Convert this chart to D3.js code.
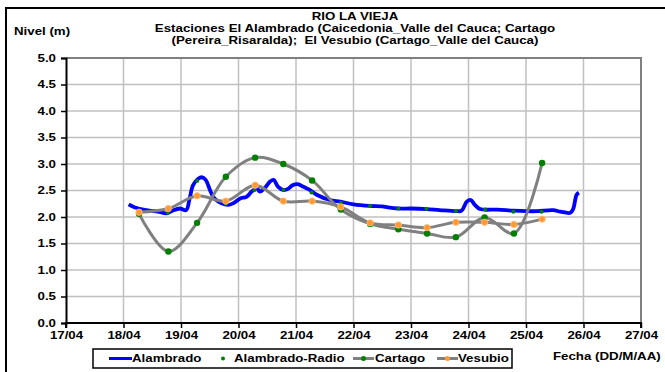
<!DOCTYPE html>
<html>
<head>
<meta charset="utf-8">
<script src="https://cdn.jsdelivr.net/npm/d3@7"></script>
<style>
  body { margin: 0; background: #fff; }
  text { font-family: "Liberation Sans", Arial, sans-serif; font-weight: bold; white-space: pre; }
</style>
</head>
<body>
<div id="chart"></div>
<script>
// Datos (dia de abril, nivel en m)
var alamDia = [18.09, 18.2, 18.4, 18.6, 18.75, 18.85, 18.98, 19.09, 19.15, 19.21, 19.3, 19.36, 19.43, 19.5, 19.56,
  19.65, 19.82, 19.91, 20.03, 20.14, 20.23, 20.32, 20.37, 20.46, 20.55, 20.61, 20.69, 20.78, 20.86, 20.94,
  21.03, 21.13, 21.24, 21.36, 21.59, 21.77, 22.0, 22.29, 22.5, 22.6, 22.78, 23.0, 23.27, 23.5, 23.79, 23.88,
  23.97, 24.04, 24.11, 24.2, 24.5, 24.78, 25.0, 25.2, 25.47, 25.6, 25.77, 25.82, 25.88, 25.92];
var alamNivel = [2.24, 2.18, 2.13, 2.10, 2.07, 2.12, 2.16, 2.13, 2.35, 2.60, 2.72, 2.75, 2.70, 2.52, 2.38,
  2.29, 2.23, 2.26, 2.35, 2.38, 2.48, 2.54, 2.48, 2.55, 2.67, 2.70, 2.57, 2.51, 2.53, 2.60,
  2.62, 2.57, 2.51, 2.42, 2.32, 2.29, 2.24, 2.21, 2.20, 2.18, 2.16, 2.16, 2.15, 2.13, 2.11, 2.12,
  2.29, 2.32, 2.23, 2.15, 2.14, 2.12, 2.11, 2.11, 2.13, 2.10, 2.08, 2.15, 2.42, 2.46];

var radioDia = [18.77, 19.28, 19.78, 20.28, 20.78, 21.27, 21.78, 22.29, 22.78, 23.27, 23.78, 24.29, 24.78, 25.27];
var radioNivel = [2.08, 2.68, 2.25, 2.51, 2.51, 2.46, 2.27, 2.21, 2.16, 2.15, 2.11, 2.14, 2.10, 2.10];

var estDia = [18.27, 18.78, 19.28, 19.78, 20.29, 20.78, 21.28, 21.78, 22.29, 22.78, 23.28, 23.78, 24.28, 24.79, 25.28];
var cartagoNivel = [2.06, 1.35, 1.89, 2.76, 3.12, 3.00, 2.69, 2.14, 1.87, 1.77, 1.69, 1.62, 1.99, 1.69, 3.02];
var vesubioNivel = [2.09, 2.16, 2.40, 2.30, 2.60, 2.30, 2.30, 2.19, 1.89, 1.85, 1.80, 1.90, 1.90, 1.86, 1.96];

var yTicks = [0, 0.5, 1, 1.5, 2, 2.5, 3, 3.5, 4, 4.5, 5];
var xTicks = [17, 18, 19, 20, 21, 22, 23, 24, 25, 26, 27];
var titulo = ["RIO LA VIEJA",
  "Estaciones El Alambrado (Caicedonia_Valle del Cauca; Cartago",
  "(Pereira_Risaralda);  El Vesubio (Cartago_Valle del Cauca)"];

var W = 665, H = 372;
var SX = 1.33; // el texto del grafico original sale estirado a lo ancho
var margin = { top: 58, right: 24, bottom: 49, left: 66 };
var width = W - margin.left - margin.right,
    height = H - margin.top - margin.bottom;

// estira el texto horizontalmente sin mover su punto de anclaje
function estirar(sel) {
  sel.each(function() {
    var t = d3.select(this);
    var x0 = +t.attr("x") || 0;
    t.attr("x", x0 / SX).attr("transform", "scale(" + SX + ",1)")
      .style("font-size", "10px")
      .style("font-family", "'Liberation Sans', Arial, sans-serif")
      .style("font-weight", "bold")
      .attr("fill", "#000");
  });
}

var svg = d3.select("#chart").append("svg")
    .attr("width", W)
    .attr("height", H);

// marco exterior
svg.append("rect")
    .attr("x", 6).attr("y", 8)
    .attr("width", 670).attr("height", 380)
    .attr("fill", "none")
    .attr("stroke", "#000")
    .attr("stroke-width", 2);

var g = svg.append("g")
    .attr("transform", "translate(" + margin.left + "," + margin.top + ")");

var x = d3.scaleLinear().domain([17, 27]).range([0, width]);
var y = d3.scaleLinear().domain([0, 5]).range([height, 0]);

// grid
g.selectAll("line.hgrid").data(yTicks.slice(1)).enter().append("line")
    .attr("class", "hgrid")
    .attr("x1", 0).attr("x2", width)
    .attr("y1", function(d) { return y(d); }).attr("y2", function(d) { return y(d); })
    .attr("stroke", "#c0c0c0").attr("stroke-width", 1.5);
g.selectAll("line.vgrid").data(xTicks.slice(1)).enter().append("line")
    .attr("class", "vgrid")
    .attr("x1", function(d) { return x(d); }).attr("x2", function(d) { return x(d); })
    .attr("y1", 0).attr("y2", height)
    .attr("stroke", "#c0c0c0").attr("stroke-width", 1.5);

// borde del area de trazado (arriba y derecha)
g.append("path")
    .attr("d", "M0,0H" + width + "V" + height)
    .attr("fill", "none")
    .attr("stroke", "#808080")
    .attr("stroke-width", 2);

// ejes
var yAxis = g.append("g")
    .call(d3.axisLeft(y).tickValues(yTicks).tickFormat(d3.format(".1f")).tickSize(5).tickPadding(5));
var xAxis = g.append("g")
    .attr("transform", "translate(0," + height + ")")
    .call(d3.axisBottom(x).tickValues(xTicks).tickFormat(function(d) { return d + "/04"; }).tickSize(5).tickPadding(4));
[yAxis, xAxis].forEach(function(a) {
  a.select(".domain").attr("stroke", "#000").attr("stroke-width", 2);
  a.selectAll(".tick line").attr("stroke", "#000").attr("stroke-width", 1.5);
  a.selectAll(".tick text").call(estirar);
});
xAxis.select(".domain").attr("d", "M0,5V0H" + width + "V5");

// series
var smooth = d3.line()
    .x(function(d) { return x(d[0]); })
    .y(function(d) { return y(d[1]); })
    .curve(d3.curveCatmullRom.alpha(0.5));

var alam = alamDia.map(function(d, i) { return [d, alamNivel[i]]; });
var radio = radioDia.map(function(d, i) { return [d, radioNivel[i]]; });
var cartago = estDia.map(function(d, i) { return [d, cartagoNivel[i]]; });
var vesubio = estDia.map(function(d, i) { return [d, vesubioNivel[i]]; });

g.append("path").datum(alam)
    .attr("d", smooth)
    .attr("fill", "none").attr("stroke", "#0000ff").attr("stroke-width", 3.8)
    .attr("stroke-linejoin", "round");

g.selectAll("circle.radio").data(radio).enter().append("circle")
    .attr("class", "radio")
    .attr("cx", function(d) { return x(d[0]); })
    .attr("cy", function(d) { return y(d[1]); })
    .attr("r", 2).attr("fill", "#008000");

g.append("path").datum(cartago)
    .attr("d", smooth)
    .attr("fill", "none").attr("stroke", "#808080").attr("stroke-width", 3);
g.selectAll("circle.cartago").data(cartago).enter().append("circle")
    .attr("class", "cartago")
    .attr("cx", function(d) { return x(d[0]); })
    .attr("cy", function(d) { return y(d[1]); })
    .attr("r", 3.2).attr("fill", "#008000");

g.append("path").datum(vesubio)
    .attr("d", smooth)
    .attr("fill", "none").attr("stroke", "#808080").attr("stroke-width", 3);
g.selectAll("circle.vesubio").data(vesubio).enter().append("circle")
    .attr("class", "vesubio")
    .attr("cx", function(d) { return x(d[0]); })
    .attr("cy", function(d) { return y(d[1]); })
    .attr("r", 3.2).attr("fill", "#ff9933").attr("stroke", "#ffc080").attr("stroke-width", 0.8);

// titulo
svg.selectAll("text.titulo").data(titulo).enter().append("text")
    .attr("class", "titulo")
    .attr("x", 355)
    .attr("y", function(d, i) { return 20 + i * 12; })
    .attr("text-anchor", "middle")
    .text(function(d) { return d; })
    .call(estirar);

svg.append("text")
    .attr("x", 14).attr("y", 35)
    .text("Nivel (m)")
    .call(estirar);

svg.append("text")
    .attr("x", 553).attr("y", 360)
    .text("Fecha (DD/M/AA)")
    .call(estirar);

// leyenda
var leg = svg.append("g");
leg.append("rect")
    .attr("x", 93).attr("y", 349).attr("width", 419).attr("height", 19)
    .attr("fill", "#fff").attr("stroke", "#000").attr("stroke-width", 1.5);
var ly = 358.5;
leg.append("line").attr("x1", 109).attr("x2", 132).attr("y1", ly).attr("y2", ly)
    .attr("stroke", "#0000ff").attr("stroke-width", 3);
leg.append("text").attr("x", 132).attr("y", ly + 3.5).text("Alambrado").call(estirar);
leg.append("circle").attr("cx", 223).attr("cy", ly).attr("r", 2).attr("fill", "#008000");
leg.append("text").attr("x", 234).attr("y", ly + 3.5).text("Alambrado-Radio").call(estirar);
leg.append("line").attr("x1", 353).attr("x2", 374).attr("y1", ly).attr("y2", ly)
    .attr("stroke", "#808080").attr("stroke-width", 3);
leg.append("circle").attr("cx", 363.5).attr("cy", ly).attr("r", 2.5).attr("fill", "#008000");
leg.append("text").attr("x", 375).attr("y", ly + 3.5).text("Cartago").call(estirar);
leg.append("line").attr("x1", 437).attr("x2", 458).attr("y1", ly).attr("y2", ly)
    .attr("stroke", "#808080").attr("stroke-width", 3);
leg.append("circle").attr("cx", 447.5).attr("cy", ly).attr("r", 2.5).attr("fill", "#ff9933");
leg.append("text").attr("x", 458).attr("y", ly + 3.5).text("Vesubio").call(estirar);
</script>
</body>
</html>
